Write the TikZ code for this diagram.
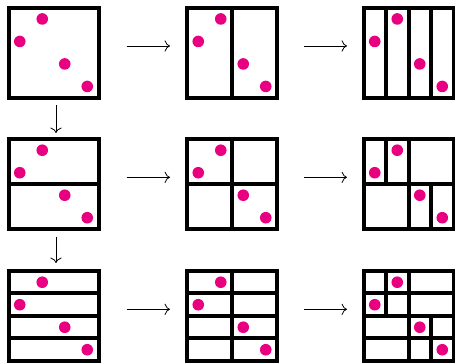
\documentclass[tikz,border=0pt]{standalone}
\usetikzlibrary{calc,arrows.meta}
\definecolor{hong}{RGB}{232,0,128}

\begin{document}
\begin{tikzpicture}[
						x=1pt, y=1pt,
						>={To[scale=1.6]},
						o/.style={draw, line width=4pt, minimum size=90pt, inner sep=0pt, outer sep=0pt},
						vach/.style={line width=4pt},
						diem/.style={fill=hong},
						muiten/.style={->, line width=0.8pt}
						]
						
						\useasboundingbox (0,0) rectangle (455,363);
						
						% Các ô
						\foreach \c/\x in {1/53.5,2/232,3/408.5}{
							\foreach \r/\y in {1/310.3,2/179,3/47}{
								\node[o] (o\r\c) at (\x,\y) {};
								% Các điểm
								\foreach \u/\v in {3/1,1/3,5/5,7/7}{
									\fill[diem] ($(o\r\c.north west)+(\u*11.25,-\v*11.25)$) circle (5.8pt);
								}
							}
						}
						
						% Chia dọc
						\draw[vach] (o12.north) -- (o12.south);
						\foreach \t in {0.25,0.5,0.75}{
							\draw[vach] ($(o13.north west)!\t!(o13.north east)$) -- ($(o13.south west)!\t!(o13.south east)$);
						}
						
						% Chia ngang
						\foreach \c in {1,2,3}{
							\draw[vach] (o2\c.west) -- (o2\c.east);
							\foreach \t in {0.25,0.5,0.75}{
								\draw[vach] ($(o3\c.north west)!\t!(o3\c.south west)$) -- ($(o3\c.north east)!\t!(o3\c.south east)$);
							}
						}
						
						% Chia cả hai
						\foreach \r in {2,3}{
							\draw[vach] (o\r2.north) -- (o\r2.south);
							\draw[vach] (o\r3.north) -- (o\r3.south);
							\draw[vach] ($(o\r3.north west)!0.25!(o\r3.north east)$) -- ($(o\r3.west)!0.25!(o\r3.east)$);
							\draw[vach] ($(o\r3.west)!0.75!(o\r3.east)$) -- ($(o\r3.south west)!0.75!(o\r3.south east)$);
						}
						
						% Mũi tên ngang
						\foreach \r in {1,2,3}{
							\draw[muiten, shorten <=28pt, shorten >=17pt] ([yshift=6.7pt]o\r1.east) -- ([yshift=6.7pt]o\r2.west);
							\draw[muiten, shorten <=27pt, shorten >=16.5pt] ([yshift=6.7pt]o\r2.east) -- ([yshift=6.7pt]o\r3.west);
						}
						
						% Mũi tên dọc
						\draw[muiten, shorten <=7.5pt, shorten >=6pt] ([xshift=2.5pt]o11.south) -- ([xshift=2.5pt]o21.north);
						\draw[muiten, shorten <=8pt, shorten >=8pt] ([xshift=2.5pt]o21.south) -- ([xshift=2.5pt]o31.north);
						
					\end{tikzpicture}
\end{document}
